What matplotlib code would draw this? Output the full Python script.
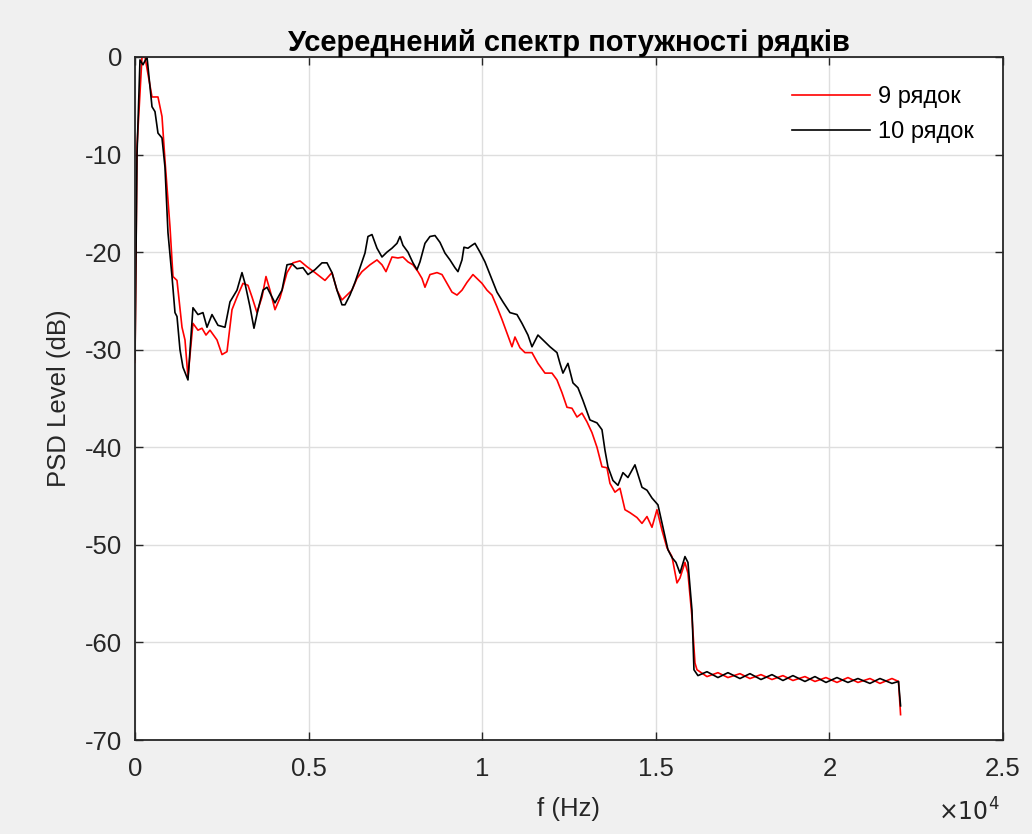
# Усереднений спектр потужності двох рядків
import matplotlib
matplotlib.use("Agg")
import matplotlib.pyplot as plt
from matplotlib.ticker import FuncFormatter

plt.rcParams['font.family'] = ['Liberation Sans', 'DejaVu Sans']
plt.rcParams['axes.unicode_minus'] = False

# 9 рядок (червона крива), частота в Гц, рівень в дБ
f9 = [0, 58, 202, 288, 490, 662, 778, 864, 1008, 1094, 1210, 1354, 1440, 1526,
      1670, 1814, 1930, 2045, 2160, 2362, 2506, 2650, 2794, 2938, 3110, 3254,
      3370, 3514, 3658, 3773, 3888, 4032, 4176, 4378, 4550, 4752, 4954, 5184,
      5472, 5674, 5818, 5962, 6250, 6394, 6538, 6768, 6970, 7114, 7229, 7402,
      7574, 7718, 7862, 8006, 8150, 8266, 8352, 8496, 8698, 8842, 8986, 9130,
      9274, 9418, 9562, 9734, 9850, 9994, 10138, 10282, 10426, 10570, 10714,
      10858, 10944, 11088, 11232, 11434, 11606, 11808, 12010, 12154, 12298,
      12442, 12586, 12730, 12874, 13018, 13162, 13306, 13450, 13594, 13680,
      13824, 13968, 14112, 14256, 14458, 14602, 14746, 14890, 15034, 15178,
      15322, 15466, 15610, 15696, 15840, 15926, 16042, 16128, 16186, 16474,
      16790, 17078, 17424, 17712, 18029, 18346, 18662, 18950, 19296, 19584,
      19901, 20218, 20534, 20822, 21168, 21456, 21802, 21990, 22050]
psd9 = [-31.3, -9.2, 0.0, 0.0, -4.1, -4.1, -6.1, -10.6, -17.4, -22.5, -22.9,
        -27.7, -29.0, -32.8, -27.3, -28.0, -27.8, -28.5, -28.0, -29.0, -30.5,
        -30.2, -25.9, -24.6, -23.2, -23.4, -24.6, -26.2, -24.6, -22.5, -23.9,
        -25.9, -24.7, -22.1, -21.1, -20.9, -21.5, -22.1, -22.9, -22.1, -23.9,
        -24.9, -23.9, -22.7, -22.0, -21.3, -20.8, -21.3, -22.0, -20.5, -20.6,
        -20.5, -21.0, -21.3, -22.0, -22.7, -23.6, -22.3, -22.1, -22.3, -23.2,
        -24.1, -24.4, -23.9, -23.1, -22.3, -22.7, -23.2, -23.9, -24.4, -25.6,
        -26.9, -28.3, -29.7, -28.7, -29.8, -30.3, -30.3, -31.4, -32.4, -32.4,
        -33.1, -34.4, -35.9, -36.0, -36.9, -36.5, -37.4, -38.5, -40.0, -42.0,
        -42.1, -43.7, -44.6, -44.2, -46.4, -46.7, -47.2, -47.8, -47.1, -48.2,
        -46.4, -48.5, -50.3, -51.2, -53.9, -53.4, -51.8, -52.9, -57.4, -62.1,
        -62.8, -63.5, -63.1, -63.6, -63.2, -63.7, -63.3, -63.8, -63.4, -63.9,
        -63.5, -64.0, -63.6, -64.1, -63.6, -64.1, -63.7, -64.2, -63.7, -64.0,
        -67.4]

# 10 рядок (чорна крива)
f10 = [0, 58, 144, 230, 346, 490, 576, 662, 778, 864, 950, 1066, 1152, 1210,
       1296, 1382, 1526, 1670, 1814, 1958, 2074, 2218, 2390, 2592, 2736, 2938,
       3082, 3168, 3312, 3427, 3542, 3686, 3802, 3946, 4032, 4234, 4378, 4522,
       4666, 4838, 4982, 5184, 5386, 5530, 5674, 5818, 5962, 6048, 6192, 6336,
       6480, 6624, 6710, 6826, 6970, 7114, 7258, 7402, 7546, 7632, 7718, 7862,
       8006, 8122, 8208, 8352, 8496, 8640, 8784, 8928, 9072, 9216, 9302, 9418,
       9475, 9590, 9706, 9792, 9936, 10080, 10224, 10426, 10598, 10800, 11002,
       11146, 11318, 11434, 11606, 11808, 11952, 12154, 12240, 12326, 12470,
       12614, 12758, 12902, 13104, 13306, 13450, 13536, 13622, 13766, 13910,
       14054, 14198, 14400, 14602, 14746, 14890, 15062, 15206, 15350, 15466,
       15581, 15696, 15840, 15926, 16042, 16099, 16214, 16474, 16790, 17078,
       17424, 17712, 18029, 18346, 18662, 18950, 19296, 19584, 19901, 20218,
       20534, 20822, 21168, 21456, 21802, 21990, 22050]
psd10 = [-31.0, -10.0, -0.3, -0.8, 0.0, -5.1, -5.6, -7.8, -8.3, -11.3, -18.0,
         -22.5, -26.2, -26.6, -30.0, -31.8, -33.1, -25.7, -26.4, -26.2, -27.7,
         -26.4, -27.5, -27.7, -25.1, -23.9, -22.1, -23.2, -25.6, -27.8, -25.9,
         -23.9, -23.6, -24.6, -25.2, -23.9, -21.3, -21.2, -21.7, -21.6, -22.3,
         -21.8, -21.1, -21.1, -22.1, -23.9, -25.4, -25.4, -24.4, -23.1, -21.6,
         -20.1, -18.4, -18.2, -19.6, -20.5, -20.0, -19.6, -19.1, -18.4, -19.3,
         -20.0, -21.1, -21.8, -21.0, -19.1, -18.4, -18.3, -19.0, -20.1, -20.8,
         -21.6, -22.0, -20.8, -19.5, -19.6, -19.3, -19.1, -20.0, -21.0, -22.3,
         -24.1, -25.1, -26.2, -26.4, -27.3, -28.5, -29.7, -28.5, -29.2, -29.7,
         -30.3, -31.4, -32.4, -31.4, -33.4, -33.9, -35.2, -37.2, -37.5, -38.2,
         -40.3, -42.0, -43.4, -43.9, -42.6, -43.1, -41.8, -44.1, -44.4, -45.2,
         -45.9, -48.2, -50.5, -51.3, -51.8, -52.9, -51.2, -51.8, -56.7, -62.8,
         -63.4, -63.0, -63.6, -63.1, -63.7, -63.2, -63.8, -63.3, -63.9, -63.4,
         -64.0, -63.5, -64.1, -63.6, -64.1, -63.7, -64.2, -63.7, -64.2, -64.0,
         -66.5]

x_ticks = [0, 5000, 10000, 15000, 20000, 25000]
x_tick_labels = ['0', '0.5', '1', '1.5', '2', '2.5']
y_ticks = [-70, -60, -50, -40, -30, -20, -10, 0]

dark = '#262626'

fig = plt.figure(figsize=(10.32, 8.34), dpi=100, facecolor='#f0f0f0')
ax = fig.add_axes([0.1308, 0.1127, 0.8411, 0.819])
ax.set_facecolor('white')

ax.plot(f9, psd9, color='red', linewidth=1.2, label='9 рядок')
ax.plot(f10, psd10, color='black', linewidth=1.2, label='10 рядок')

ax.set_xlim(0, 25000)
ax.set_ylim(-70, 0)
ax.set_xticks(x_ticks)
ax.xaxis.set_major_formatter(FuncFormatter(lambda v, p: x_tick_labels[p] if p is not None and p < len(x_tick_labels) else ''))
ax.set_yticks(y_ticks)

ax.grid(True, color='#dedede', linewidth=1.0)
ax.set_axisbelow(True)
for s in ax.spines.values():
    s.set_color(dark)
    s.set_linewidth(1.3)
ax.tick_params(axis='both', direction='in', length=6, width=1.0, color=dark,
               labelcolor=dark, labelsize=18.5, top=True, right=True)
ax.tick_params(axis='x', pad=12)
ax.tick_params(axis='y', pad=9)

ax.set_title('Усереднений спектр потужності рядків', fontsize=21,
             fontweight='bold', color='black', pad=4)
ax.set_xlabel('f (Hz)', fontsize=18.5, color=dark, labelpad=12)
ax.set_ylabel('PSD Level (dB)', fontsize=18.5, color=dark, labelpad=10)

fig.text(1000 / 1032, 1 - 812 / 834, r'$\times10^{4}$', fontsize=17,
         color=dark, ha='right', va='center', math_fontfamily='dejavusans')

ax.legend(loc='upper left', bbox_to_anchor=(792 / 1032, 1 - 86 / 834),
          bbox_transform=fig.transFigure, frameon=False, fontsize=17,
          handlelength=3.3, handletextpad=0.35, borderpad=0, borderaxespad=0,
          labelspacing=0.55)

fig.savefig('out.png', dpi=100, facecolor=fig.get_facecolor())
